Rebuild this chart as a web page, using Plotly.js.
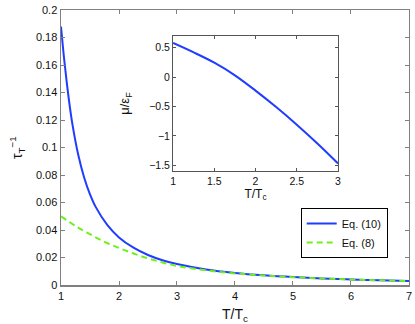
<!DOCTYPE html>
<html>
<head>
<meta charset="utf-8">
<script src="https://cdn.plot.ly/plotly-3.0.1.min.js"></script>
<style>
	html, body { margin: 0; padding: 0; background: #fff; }
	#chart { width: 415px; height: 324px; }
</style>
</head>
<body>
<div id="chart"></div>
<script>
// main panel: inverse relaxation time vs T/Tc
var tEq10 = [1.0, 1.05, 1.1, 1.15, 1.2, 1.3, 1.4, 1.5, 1.6, 1.8, 2.0, 2.25, 2.5, 2.75, 3.0, 3.5, 4.0, 4.5, 5.0, 5.5, 6.0, 6.5, 7.0];
var rateEq10 = [0.188, 0.166, 0.147, 0.1304, 0.1162, 0.0942, 0.0781, 0.066, 0.0567, 0.0436, 0.0347, 0.0272, 0.0219, 0.0181, 0.0153, 0.0114, 0.0089, 0.00715, 0.00585, 0.00487, 0.0041, 0.0035, 0.0030];

var tEq8 = [1.0, 1.25, 1.5, 1.75, 2.0, 2.25, 2.5, 2.75, 3.0, 3.5, 4.0, 4.5, 5.0, 5.5, 6.0, 6.5, 7.0];
var rateEq8 = [0.050, 0.043, 0.037, 0.0315, 0.027, 0.023, 0.0195, 0.0165, 0.014, 0.0108, 0.0085, 0.00700, 0.00580, 0.00485, 0.0041, 0.0035, 0.0030];

// inset: chemical potential
var tInset = [1.0, 1.25, 1.5, 1.75, 2.0, 2.25, 2.5, 2.75, 3.0];
var muInset = [0.58, 0.42, 0.245, 0.03, -0.23, -0.51, -0.81, -1.13, -1.47];

var mainTicksY = [0, 0.02, 0.04, 0.06, 0.08, 0.1, 0.12, 0.14, 0.16, 0.18, 0.2];
var mainTicksYText = ['0', '0.02', '0.04', '0.06', '0.08', '0.1', '0.12', '0.14', '0.16', '0.18', '0.2'];
var insetTicksY = [-1.5, -1, -0.5, 0, 0.5];
var insetTicksYText = ['\u22121.5', '\u22121', '\u22120.5', '0', '0.5'];

var blue = '#1f3dff';
var green = '#6ef01e';
var font = 'Liberation Sans, Arial, sans-serif';

var data = [
	{
		x: tEq10, y: rateEq10, name: 'Eq. (10)',
		type: 'scatter', mode: 'lines',
		line: { color: blue, width: 2, shape: 'spline' },
		xaxis: 'x', yaxis: 'y'
	},
	{
		x: tEq8, y: rateEq8, name: 'Eq. (8)',
		type: 'scatter', mode: 'lines',
		line: { color: green, width: 2, dash: '6px,4px', shape: 'spline' },
		xaxis: 'x', yaxis: 'y'
	},
	{
		x: tInset, y: muInset, showlegend: false,
		type: 'scatter', mode: 'lines',
		line: { color: blue, width: 2, shape: 'spline' },
		xaxis: 'x2', yaxis: 'y2'
	}
];

function frame(extra) {
	var ax = {
		showline: true, mirror: 'ticks', ticks: 'inside', ticklen: 4,
		showgrid: false, zeroline: false, fixedrange: true,
		tickfont: { family: font, size: 11, color: '#111' }
	};
	for (var k in extra) ax[k] = extra[k];
	return ax;
}

var layout = {
	width: 415, height: 324,
	margin: { l: 0, r: 0, t: 0, b: 0 },
	paper_bgcolor: '#fff', plot_bgcolor: '#fff',
	font: { family: font, size: 11, color: '#111' },
	showlegend: true,
	legend: {
		x: 0.7246, xanchor: 'left', y: 0.358, yanchor: 'top',
		bordercolor: '#000', borderwidth: 1, bgcolor: '#fff',
		font: { family: font, size: 11, color: '#111' },
		tracegroupgap: 2
	},
	xaxis: frame({
		domain: [0.147, 0.9855], range: [1, 7],
		tickvals: [1, 2, 3, 4, 5, 6, 7],
		linecolor: '#808080', linewidth: 1.5, tickcolor: '#808080',
		anchor: 'y',
		title: { text: 'T/T<sub>c</sub>', font: { family: font, size: 14, color: '#111' }, standoff: 9 }
	}),
	yaxis: frame({
		domain: [0.12, 0.969], range: [0, 0.2],
		tickvals: mainTicksY, ticktext: mainTicksYText,
		linecolor: '#808080', linewidth: 1.5, tickcolor: '#808080',
		anchor: 'x',
		title: { text: '\u03c4<sub>T</sub><sup>\u22121</sup>', font: { family: font, size: 14, color: '#111' }, standoff: 10 }
	}),
	xaxis2: frame({
		domain: [0.417, 0.8145], range: [1, 3],
		tickvals: [1, 1.5, 2, 2.5, 3],
		linecolor: '#555', linewidth: 1, tickcolor: '#555', ticklen: 3,
		tickfont: { family: font, size: 10.5, color: '#111' },
		anchor: 'y2',
		title: { text: 'T/T<sub>c</sub>', font: { family: font, size: 12, color: '#111' }, standoff: 0 }
	}),
	yaxis2: frame({
		domain: [0.472, 0.889], range: [-1.6, 0.7],
		tickvals: insetTicksY, ticktext: insetTicksYText,
		linecolor: '#555', linewidth: 1, tickcolor: '#555', ticklen: 3,
		tickfont: { family: font, size: 10.5, color: '#111' },
		anchor: 'x2',
		title: { text: '\u03bc/\u03b5<sub>F</sub>', font: { family: font, size: 13, color: '#111' }, standoff: 16 }
	})
};

Plotly.newPlot('chart', data, layout, { displayModeBar: false, staticPlot: true });
</script>
</body>
</html>
